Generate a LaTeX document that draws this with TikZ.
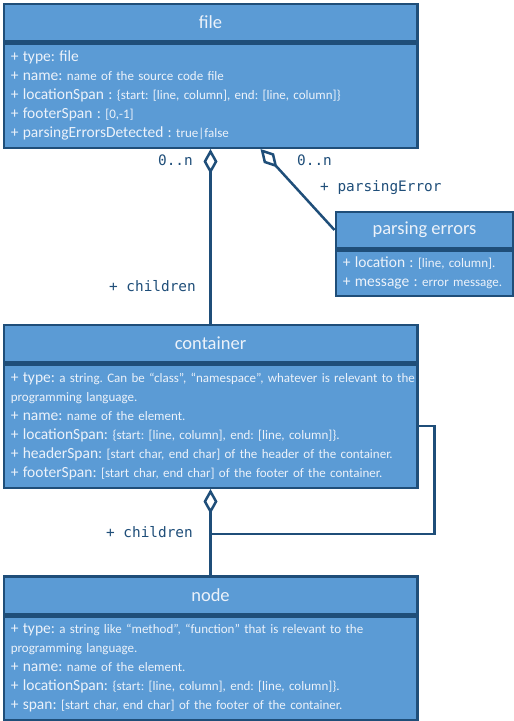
\documentclass[tikz,border=0pt]{standalone}
\usepackage{fontspec}
\usetikzlibrary{arrows.meta}
\newfontfamily\carlito{Carlito}
\newfontfamily\consolas{DejaVu Sans Mono}
\definecolor{steelblue}{RGB}{91, 155, 213}
\definecolor{navyline}{RGB}{31, 78, 121}
\definecolor{paletext}{RGB}{236, 242, 250}
\frenchspacing
\newcommand{\attrname}[1]{{\fontsize{15.5}{19}\selectfont\mbox{#1}}}
\newcommand{\attrval}[1]{{\fontsize{13}{19}\selectfont\mbox{#1}}}
\tikzset{
  headbox/.style={draw=navyline, fill=steelblue, line width=2.5pt, text=paletext,
                  font=\carlito\fontsize{18.5}{22}\selectfont, anchor=north west, inner sep=0pt},
  bodybox/.style={draw=navyline, fill=steelblue, line width=2.5pt, text=paletext,
                  font=\carlito\fontsize{13}{19}\selectfont, anchor=north, align=left,
                  inner xsep=7pt, inner ysep=0pt},
  assoc/.style={draw=navyline, line width=2.5pt},
  aggr/.style={assoc, {Diamond[open, length=25pt, width=14pt]}-},
  mult/.style={text=navyline, font=\consolas\fontsize{14.4}{16}\selectfont, inner sep=0pt},
}
\begin{document}
\begin{tikzpicture}[x=1pt, y=-1pt]
            \useasboundingbox (0,0) rectangle (514,721);
            % file
            \node[headbox, minimum width=413.5, minimum height=37] (fileHead) at (2.5, 2.5) {file};
            \node[bodybox, text width=399.5, minimum height=104.5] (fileBody) at (fileHead.south) {%
              \attrname{+ type: file}\\
              \attrname{+ name:}~\attrval{name of the source code file}\\
              \attrname{+ locationSpan :}~\attrval{\{start: [line, column], end: [line, column]\}}\\
              \attrname{+ footerSpan :}~\attrval{[0,-1]}\\
              \attrname{+ parsingErrorsDetected :}~\attrval{true|false}};
            % parsing errors
            \node[headbox, minimum width=177.5, minimum height=36.5] (errHead) at (334.5, 210.5) {parsing errors};
            \node[bodybox, text width=163.5, minimum height=45] (errBody) at (errHead.south) {%
              \attrname{+ location :}~\attrval{[line, column].}\\
              \attrname{+ message :}~\attrval{error message.}};
            % container
            \node[headbox, minimum width=413.5, minimum height=37] (contHead) at (2.5, 323.5) {container};
            \node[bodybox, text width=399.5, minimum height=123.5] (contBody) at (contHead.south) {%
              \attrname{+ type:}~\attrval{a string. Can be “class”, “namespace”, whatever is relevant to the}\\
              \attrval{programming language.}\\
              \attrname{+ name:}~\attrval{name of the element.}\\
              \attrname{+ locationSpan:}~\attrval{\{start: [line, column], end: [line, column]\}.}\\
              \attrname{+ headerSpan:}~\attrval{[start char, end char] of the header of the container.}\\
              \attrname{+ footerSpan:}~\attrval{[start char, end char] of the footer of the container.}};
            % node
            \node[headbox, minimum width=413.5, minimum height=37.5] (nodeHead) at (2.5, 575) {node};
            \node[bodybox, text width=399.5, minimum height=104] (nodeBody) at (nodeHead.south) {%
              \attrname{+ type:}~\attrval{a string like “method”, “function” that is relevant to the}\\
              \attrval{programming language.}\\
              \attrname{+ name:}~\attrval{name of the element.}\\
              \attrname{+ locationSpan:}~\attrval{\{start: [line, column], end: [line, column]\}.}\\
              \attrname{+ span:}~\attrval{[start char, end char] of the footer of the container.}};
            % Aggregations
            \coordinate (errTip)  at ([xshift=50pt]fileBody.south);
            \coordinate (loopEnd) at ([yshift=-45pt]contBody.south);
            \draw[aggr] (fileBody.south) -- (contHead.north);
            \draw[aggr] (errTip) -- (errHead.west);
            \draw[aggr] (contBody.south) -- (nodeHead.north);
            \draw[assoc] (contBody.east) -- ++(16, 0) |- (loopEnd);
            % Role names & multiplicities
            \node[mult, anchor=east] (fileMult)  at (193, 160) {0..n};
            \node[mult, anchor=west] (errMult)   at (297, 160) {0..n};
            \node[mult, anchor=west] (errRole)   at (320, 188) {+ parsingError};
            \node[mult, anchor=east] (fileRole)  at (196, 286) {+ children};
            \node[mult, anchor=east] (contRole)  at (193, 532) {+ children};
        \end{tikzpicture}
\end{document}
